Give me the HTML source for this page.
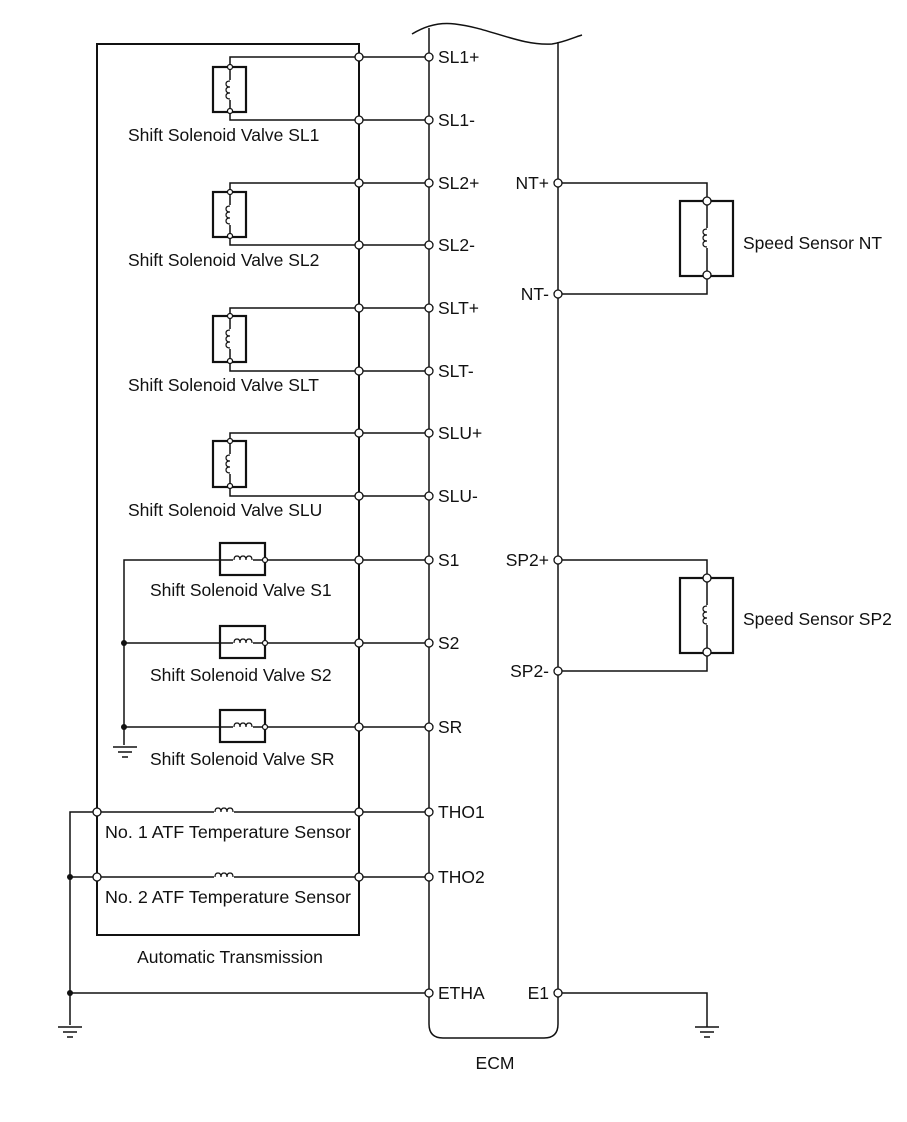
<!DOCTYPE html>
<html><head><meta charset="utf-8"><style>
html,body{margin:0;padding:0;background:#fff;}
svg{display:block;}
text{font-family:"Liberation Sans",Arial,sans-serif;font-size:17.5px;fill:#111;}
</style></head><body>
<svg width="907" height="1122" viewBox="0 0 907 1122" xmlns="http://www.w3.org/2000/svg">
<defs>
<g id="vcoil"><path d="M0,-9 q-4,0 -4,3 q0,3 4,3 q-4,0 -4,3 q0,3 4,3 q-4,0 -4,3 q0,3 4,3" fill="none" stroke="#111" stroke-width="1.2"/></g>
<g id="hcoil"><path d="M-9,0 q0,-4 3,-4 q3,0 3,4 q0,-4 3,-4 q3,0 3,4 q0,-4 3,-4 q3,0 3,4" fill="none" stroke="#111" stroke-width="1.2"/></g>
</defs>
<g fill="none" stroke="#111" stroke-width="1.5">
<path d="M97,44 H359 V935 H97 Z" stroke-width="2"/>
<path d="M412,34 C425,26 440,22 455,24 C490,28 520,46 552,44 C565,42 572,38 582,35"/>
<path d="M429,28 V1024 Q429,1038 443,1038 H544 Q558,1038 558,1024 V42"/>
<path d="M359,57 H429 M359,120 H429 M359,183 H429 M359,245 H429 M359,308 H429 M359,371 H429 M359,433 H429 M359,496 H429 M359,560 H429 M359,643 H429 M359,727 H429 M359,812 H429 M359,877 H429"/>
<path d="M359,57 H230 V120 H359 M359,183 H230 V245 H359 M359,308 H230 V371 H359 M359,433 H230 V496 H359"/>
<path d="M359,560 H124 V745 M359,643 H124 M359,727 H124"/>
<path d="M97,812 H359 M97,877 H359 M70,877 H97 M97,812 H70 V1025 M70,993 H429"/>
<path d="M113,747 H137 M118,752 H132 M122,757 H128"/>
<path d="M58,1027 H82 M63,1032 H77 M67,1037 H73"/>
<path d="M558,993 H707 V1027 M695,1027 H719 M700,1032 H714 M704,1037 H710"/>
<path d="M558,183 H707 V294 H558 M558,560 H707 V671 H558"/>
</g>
<g fill="none" stroke="#111" stroke-width="2.2">
<rect x="213" y="67" width="33" height="45"/>
<rect x="213" y="192" width="33" height="45"/>
<rect x="213" y="316" width="33" height="46"/>
<rect x="213" y="441" width="33" height="46"/>
<rect x="220" y="543" width="45" height="32"/>
<rect x="220" y="626" width="45" height="32"/>
<rect x="220" y="710" width="45" height="32"/>
<rect x="680" y="201" width="53" height="75"/>
<rect x="680" y="578" width="53" height="75"/>
</g>
<g fill="#fff">
<rect x="226" y="80" width="8" height="20"/><rect x="226" y="205" width="8" height="20"/>
<rect x="226" y="329" width="8" height="20"/><rect x="226" y="454" width="8" height="20"/>
<rect x="233" y="556" width="20" height="8"/><rect x="233" y="639" width="20" height="8"/><rect x="233" y="723" width="20" height="8"/>
<rect x="214" y="808" width="20" height="8"/><rect x="214" y="873" width="20" height="8"/>
<rect x="703" y="228" width="8" height="20"/><rect x="703" y="605" width="8" height="20"/>
</g>
<use href="#vcoil" x="230" y="90"/><use href="#vcoil" x="230" y="215"/>
<use href="#vcoil" x="230" y="339"/><use href="#vcoil" x="230" y="464"/>
<use href="#hcoil" x="243" y="560"/><use href="#hcoil" x="243" y="643"/><use href="#hcoil" x="243" y="727"/>
<use href="#hcoil" x="224" y="812"/><use href="#hcoil" x="224" y="877"/>
<use href="#vcoil" x="707" y="238"/><use href="#vcoil" x="707" y="615"/>
<g fill="#fff" stroke="#111" stroke-width="1.2">
<circle cx="230" cy="67" r="2.5"/><circle cx="230" cy="111" r="2.5"/>
<circle cx="230" cy="192" r="2.5"/><circle cx="230" cy="236" r="2.5"/>
<circle cx="230" cy="316" r="2.5"/><circle cx="230" cy="361" r="2.5"/>
<circle cx="230" cy="441" r="2.5"/><circle cx="230" cy="486" r="2.5"/>
<circle cx="265" cy="560" r="2.5"/><circle cx="265" cy="643" r="2.5"/><circle cx="265" cy="727" r="2.5"/>
</g>
<g fill="#fff" stroke="#111" stroke-width="1.3">
<circle cx="359" cy="57" r="4"/><circle cx="359" cy="120" r="4"/><circle cx="359" cy="183" r="4"/><circle cx="359" cy="245" r="4"/>
<circle cx="359" cy="308" r="4"/><circle cx="359" cy="371" r="4"/><circle cx="359" cy="433" r="4"/><circle cx="359" cy="496" r="4"/>
<circle cx="359" cy="560" r="4"/><circle cx="359" cy="643" r="4"/><circle cx="359" cy="727" r="4"/><circle cx="359" cy="812" r="4"/><circle cx="359" cy="877" r="4"/>
<circle cx="97" cy="812" r="4"/><circle cx="97" cy="877" r="4"/>
<circle cx="429" cy="57" r="4"/><circle cx="429" cy="120" r="4"/><circle cx="429" cy="183" r="4"/><circle cx="429" cy="245" r="4"/>
<circle cx="429" cy="308" r="4"/><circle cx="429" cy="371" r="4"/><circle cx="429" cy="433" r="4"/><circle cx="429" cy="496" r="4"/>
<circle cx="429" cy="560" r="4"/><circle cx="429" cy="643" r="4"/><circle cx="429" cy="727" r="4"/><circle cx="429" cy="812" r="4"/><circle cx="429" cy="877" r="4"/><circle cx="429" cy="993" r="4"/>
<circle cx="558" cy="183" r="4"/><circle cx="558" cy="294" r="4"/><circle cx="558" cy="560" r="4"/><circle cx="558" cy="671" r="4"/><circle cx="558" cy="993" r="4"/>
<circle cx="707" cy="201" r="4"/><circle cx="707" cy="275" r="4"/><circle cx="707" cy="578" r="4"/><circle cx="707" cy="652" r="4"/>
</g>
<g fill="#111">
<circle cx="124" cy="643" r="3"/><circle cx="124" cy="727" r="3"/>
<circle cx="70" cy="877" r="3"/><circle cx="70" cy="993" r="3"/>
</g>
<text x="438" y="63">SL1+</text><text x="438" y="126">SL1-</text>
<text x="438" y="189">SL2+</text><text x="438" y="251">SL2-</text>
<text x="438" y="314">SLT+</text><text x="438" y="377">SLT-</text>
<text x="438" y="439">SLU+</text><text x="438" y="502">SLU-</text>
<text x="438" y="566">S1</text><text x="438" y="649">S2</text><text x="438" y="733">SR</text>
<text x="438" y="818">THO1</text><text x="438" y="883">THO2</text><text x="438" y="999">ETHA</text>
<text x="549" y="189" text-anchor="end">NT+</text><text x="549" y="300" text-anchor="end">NT-</text>
<text x="549" y="566" text-anchor="end">SP2+</text><text x="549" y="677" text-anchor="end">SP2-</text>
<text x="549" y="999" text-anchor="end">E1</text>
<text x="128" y="141">Shift Solenoid Valve SL1</text>
<text x="128" y="266">Shift Solenoid Valve SL2</text>
<text x="128" y="391">Shift Solenoid Valve SLT</text>
<text x="128" y="516">Shift Solenoid Valve SLU</text>
<text x="150" y="596">Shift Solenoid Valve S1</text>
<text x="150" y="681">Shift Solenoid Valve S2</text>
<text x="150" y="765">Shift Solenoid Valve SR</text>
<text x="105" y="838" textLength="246" lengthAdjust="spacingAndGlyphs">No. 1 ATF Temperature Sensor</text>
<text x="105" y="903" textLength="246" lengthAdjust="spacingAndGlyphs">No. 2 ATF Temperature Sensor</text>
<text x="230" y="963" text-anchor="middle">Automatic Transmission</text>
<text x="743" y="249">Speed Sensor NT</text>
<text x="743" y="625">Speed Sensor SP2</text>
<text x="495" y="1069" text-anchor="middle">ECM</text>
</svg>
</body></html>
